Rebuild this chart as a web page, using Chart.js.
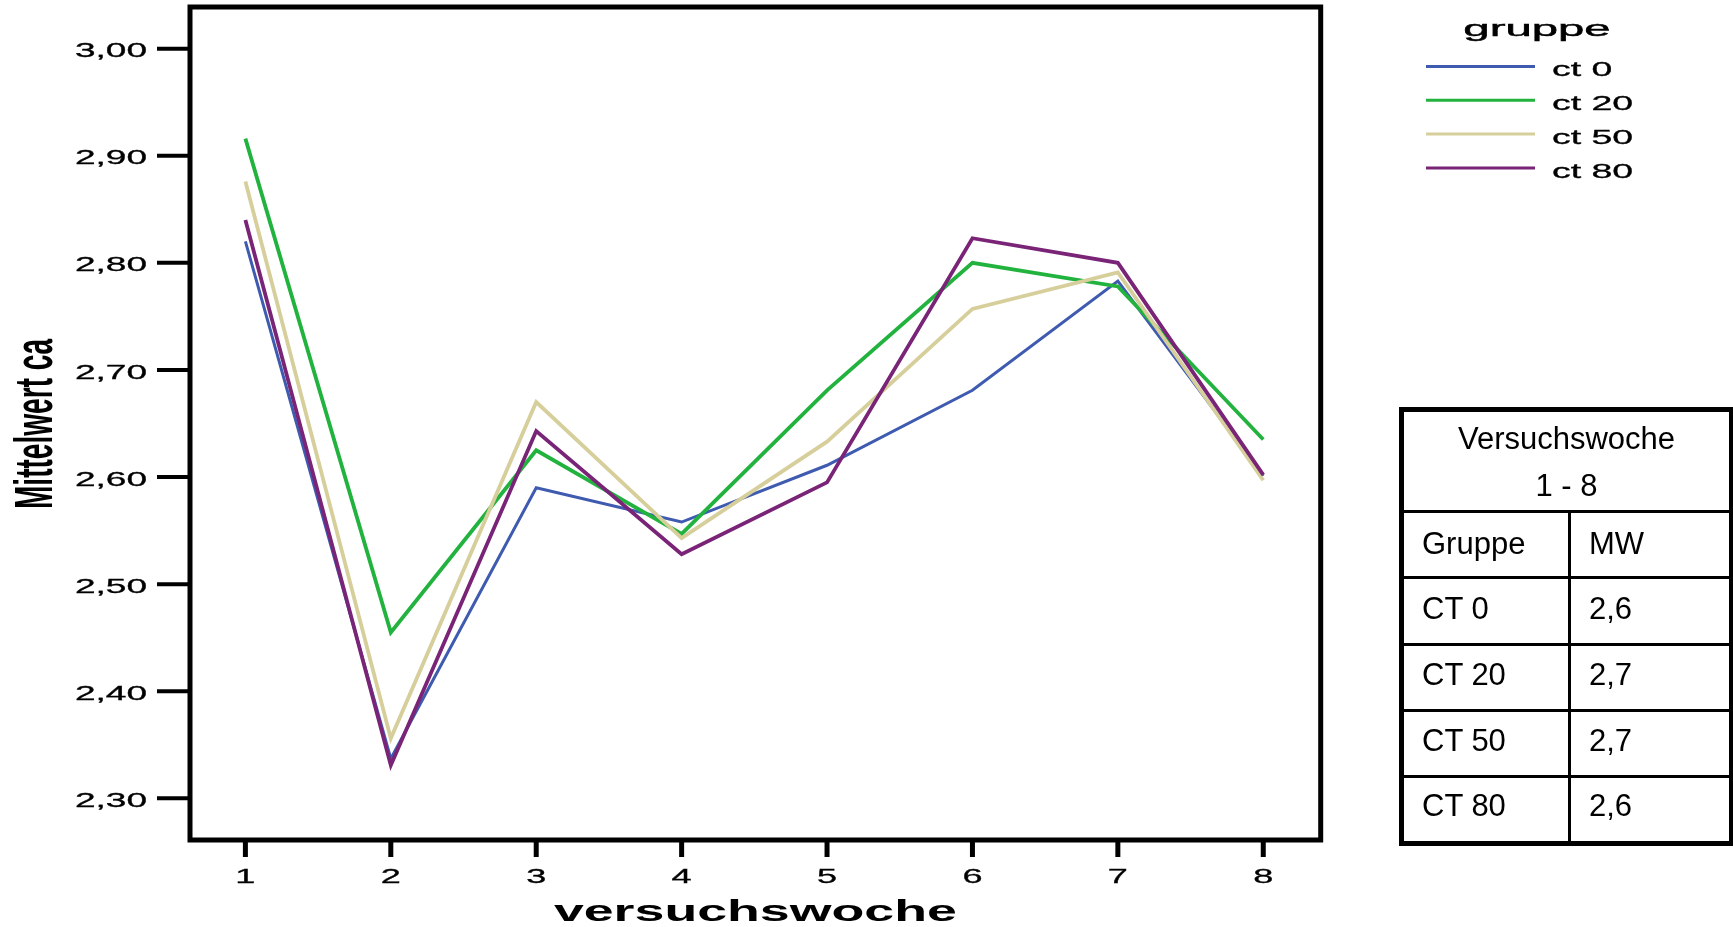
<!DOCTYPE html>
<html>
<head>
<meta charset="utf-8">
<script src="https://cdn.jsdelivr.net/npm/chart.js@4.4.1/dist/chart.umd.min.js"></script>
<style>
    html, body { margin: 0; padding: 0; background: #fff; overflow: hidden; }
    #wrap { position: relative; width: 1733px; height: 927px; }
    #chart { position: absolute; left: 0; top: 0; }
    .box { position: absolute; left: 1399px; top: 407px; width: 335px; height: 439px; border: 5px solid #000; box-sizing: border-box; }
    .hl { position: absolute; left: 1399px; width: 334px; height: 3px; background: #000; }
    .vl { position: absolute; left: 1568px; top: 510px; width: 3px; height: 334px; background: #000; }
    .txt { position: absolute; font: 31px "Liberation Sans", Arial, sans-serif; line-height: 36px; color: #000; white-space: nowrap; }
</style>
</head>
<body>
<div id="wrap">
    <canvas id="chart" width="1733" height="927"></canvas>
    <div id="mwTable"></div>
</div>
<script>
// data
const weeks = [1, 2, 3, 4, 5, 6, 7, 8];
const groupNames = ['ct 0', 'ct 20', 'ct 50', 'ct 80'];
const ct0 = [2.820, 2.337, 2.590, 2.558, 2.611, 2.681, 2.783, 2.601];
const ct20 = [2.916, 2.455, 2.625, 2.547, 2.681, 2.800, 2.778, 2.635];
const ct50 = [2.876, 2.356, 2.670, 2.543, 2.633, 2.757, 2.791, 2.597];
const ct80 = [2.840, 2.331, 2.643, 2.528, 2.595, 2.823, 2.800, 2.602];
const yTicks = [2.30, 2.40, 2.50, 2.60, 2.70, 2.80, 2.90, 3.00];
const yTickLabels = ['2,30', '2,40', '2,50', '2,60', '2,70', '2,80', '2,90', '3,00'];
const xTickLabels = ['1', '2', '3', '4', '5', '6', '7', '8'];
const tableTitle = ['Versuchswoche', '1 - 8'];
const tableHead = ['Gruppe', 'MW'];
const tableGroups = ['CT 0', 'CT 20', 'CT 50', 'CT 80'];
const tableMeans = ['2,6', '2,7', '2,7', '2,6'];

const colors = ['#3e5bb0', '#22b23e', '#d6cf9b', '#7a2478'];
const widths = [3, 3.8, 3.8, 3.8];
const series = [ct0, ct20, ct50, ct80];

const FONT = '"Liberation Sans", Arial, sans-serif';

// SPSS-style wide text: stretch horizontally, a thin stroke to thicken it a bit
function stretchText(ctx, text, x, y, sx, align, heavy) {
    ctx.save();
    ctx.translate(x, y);
    ctx.scale(sx, 1);
    ctx.textAlign = align;
    ctx.textBaseline = 'alphabetic';
    ctx.fillText(text, 0, 0);
    if (heavy) {
        ctx.lineWidth = heavy;
        ctx.strokeStyle = ctx.fillStyle;
        ctx.strokeText(text, 0, 0);
    }
    ctx.restore();
}

const spssDecor = {
    id: 'spssDecor',
    afterDraw: function (chart) {
        const ctx = chart.ctx;
        const area = chart.chartArea;
        const xs = chart.scales.x;
        const ys = chart.scales.y;
        ctx.save();
        ctx.fillStyle = '#000';
        ctx.strokeStyle = '#000';

        // frame
        ctx.lineWidth = 5;
        ctx.strokeRect(area.left, area.top, area.right - area.left, area.bottom - area.top);

        // y ticks
        ctx.font = '19.5px ' + FONT;
        ctx.lineWidth = 4;
        yTicks.forEach(function (v, i) {
            const py = ys.getPixelForValue(v);
            ctx.beginPath();
            ctx.moveTo(157, py);
            ctx.lineTo(area.left, py);
            ctx.stroke();
            stretchText(ctx, yTickLabels[i], 147, py + 8.6, 1.9, 'right', 0.3);
        });

        // x ticks
        ctx.lineWidth = 5;
        weeks.forEach(function (w, i) {
            const px = xs.getPixelForValue(w);
            ctx.beginPath();
            ctx.moveTo(px, area.bottom);
            ctx.lineTo(px, area.bottom + 17);
            ctx.stroke();
            stretchText(ctx, xTickLabels[i], px, 883, 1.85, 'center', 0.3);
        });

        // axis titles
        ctx.font = 'bold 30px ' + FONT;
        stretchText(ctx, 'versuchswoche', (area.left + area.right) / 2, 921, 1.79, 'center', 0);

        ctx.save();
        ctx.translate(52, 424);
        ctx.rotate(-Math.PI / 2);
        ctx.font = 'bold 54px ' + FONT;
        stretchText(ctx, 'Mittelwert ca', 0, 0, 0.52, 'center', 0);
        ctx.restore();

        // legend
        ctx.font = '22px ' + FONT;
        stretchText(ctx, 'gruppe', 1537, 35.5, 2.15, 'center', 0.45);
        ctx.font = '19.5px ' + FONT;
        const legendY = [66.5, 100.3, 134, 168];
        groupNames.forEach(function (name, i) {
            ctx.strokeStyle = colors[i];
            ctx.lineWidth = 3;
            ctx.beginPath();
            ctx.moveTo(1426, legendY[i]);
            ctx.lineTo(1535, legendY[i]);
            ctx.stroke();
            stretchText(ctx, name, 1552, legendY[i] + 9.5, 1.92, 'left', 0.3);
        });
        ctx.restore();
    }
};

new Chart(document.getElementById('chart'), {
    type: 'line',
    data: {
        datasets: series.map(function (vals, i) {
            return {
                label: groupNames[i],
                data: weeks.map(function (w, j) { return { x: w, y: vals[j] }; }),
                borderColor: colors[i],
                backgroundColor: colors[i],
                borderWidth: widths[i],
                borderJoinStyle: 'miter',
                borderCapStyle: 'butt',
                pointRadius: 0,
                tension: 0,
                fill: false,
                order: 4 - i
            };
        })
    },
    options: {
        responsive: false,
        animation: false,
        devicePixelRatio: 1,
        layout: { padding: { left: 190, top: 7, right: 412.3, bottom: 87 } },
        plugins: { legend: { display: false }, tooltip: { enabled: false } },
        scales: {
            x: { type: 'linear', display: false, min: 0.619, max: 8.395 },
            y: { type: 'linear', display: false, min: 2.2611, max: 3.0389 }
        }
    },
    plugins: [spssDecor]
});

// MW table beside the chart
(function buildTable() {
    const host = document.getElementById('mwTable');
    let html = '<div class="box"></div>';
    [510, 576, 643, 709, 775].forEach(function (t) {
        html += '<div class="hl" style="top:' + t + 'px"></div>';
    });
    html += '<div class="vl"></div>';
    const center = 'left:1404px;width:325px;text-align:center;';
    html += '<div class="txt" style="' + center + 'top:421px">' + tableTitle[0] + '</div>';
    html += '<div class="txt" style="' + center + 'top:468px">' + tableTitle[1] + '</div>';
    html += '<div class="txt" style="left:1422px;top:526px">' + tableHead[0] + '</div>';
    html += '<div class="txt" style="left:1589px;top:526px">' + tableHead[1] + '</div>';
    const rowTops = [591, 657, 723, 788];
    tableGroups.forEach(function (g, i) {
        html += '<div class="txt" style="left:1422px;top:' + rowTops[i] + 'px">' + g + '</div>';
        html += '<div class="txt" style="left:1589px;top:' + rowTops[i] + 'px">' + tableMeans[i] + '</div>';
    });
    host.innerHTML = html;
})();
</script>
</body>
</html>
